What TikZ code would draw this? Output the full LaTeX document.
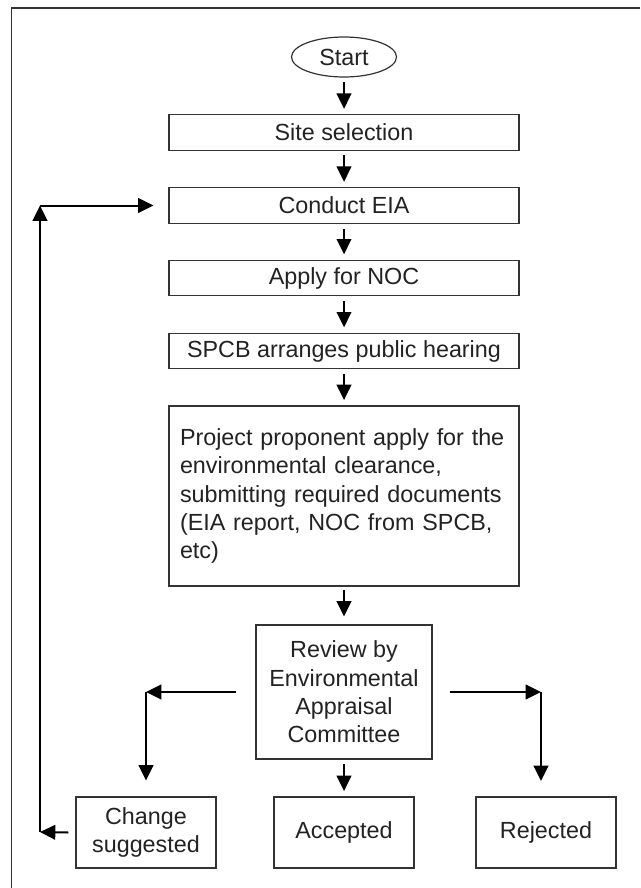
\documentclass[tikz,border=0pt]{standalone}
\usepackage{fontspec}
\setmainfont{Liberation Sans}
\usetikzlibrary{arrows.meta,shapes.geometric,calc}
\definecolor{ink}{HTML}{222222}
\definecolor{edge}{HTML}{333333}
\begin{document}
\begin{tikzpicture}[x=0.75pt,y=-0.75pt,
  every node/.style={font=\fontsize{17.5}{21.3}\selectfont, text=ink},
  box/.style={draw=edge, line width=0.9pt, rectangle, inner sep=0pt, align=center},
  mainbox/.style={box, minimum width=262.5pt, minimum height=26.6pt},
  smallbox/.style={box, minimum width=105pt, minimum height=53.25pt},
  arr/.style={line width=1.5pt, draw=black, -{Triangle[length=11.5pt,width=11pt]}},
  flow/.style={arr, shorten <=3.5pt, shorten >=4pt},
  frame/.style={line width=1.1pt, draw=edge}]
\useasboundingbox (0,0) rectangle (640,888);
\draw[frame] (640,8) -- (11.5,8) -- (11.5,888);

\node[draw=edge, line width=0.9pt, ellipse, inner sep=0pt, minimum width=78.75pt, minimum height=30pt] (start) at (344,57) {Start};
\node[mainbox] (site) at (344,132.5) {Site selection};
\node[mainbox] (eia) at (344,205.5) {Conduct EIA};
\node[mainbox] (noc) at (344,278) {Apply for NOC};
\node[mainbox] (spcb) at (344,351) {SPCB arranges public hearing};
\node[box, minimum width=262.5pt, minimum height=135pt, text width=246pt, inner xsep=8.25pt, align=left] (proj) at (344,496)
  {Project proponent apply for the\\ environmental clearance,\\ submitting required documents\\ (EIA report, NOC from SPCB,\\ etc)};
\node[box, minimum width=132pt, minimum height=100.5pt] (review) at (344,692)
  {Review by\\ Environmental\\ Appraisal\\ Committee};
\node[smallbox] (change) at (146,832.5) {Change\\ suggested};
\node[smallbox] (acc) at (344,832.5) {Accepted};
\node[smallbox] (rej) at (546,832.5) {Rejected};

\draw[flow] (start) -- (site);
\draw[flow] (site) -- (eia);
\draw[flow] (eia) -- (noc);
\draw[flow] (noc) -- (spcb);
\draw[flow] (spcb) -- (proj);
\draw[arr, shorten <=2.25pt, shorten >=6pt] (proj) -- (review);
\draw[flow] (review) -- (acc);

% left branch
\coordinate (lc) at (review.west -| change.north);
\draw[arr] ($(review.west)+(-19,0)$) -- (lc);
\draw[arr] (lc) -- ($(change.north)+(0,-16)$);
% right branch
\coordinate (rc) at (541,692);
\coordinate (rt) at (541,781);
\draw[arr] ($(review.east)+(17,0)$) -- (rc);
\draw[arr] (rc) -- (rt);
% feedback loop
\coordinate (lb) at (40,832);
\coordinate (lt) at (lb |- eia.west);
\draw[arr] ($(change.west)+(-7,0)$) -- (lb);
\draw[arr] (lb) -- (lt);
\draw[arr] (lt) -- ($(eia.west)+(-15,0)$);
\end{tikzpicture}
\end{document}
